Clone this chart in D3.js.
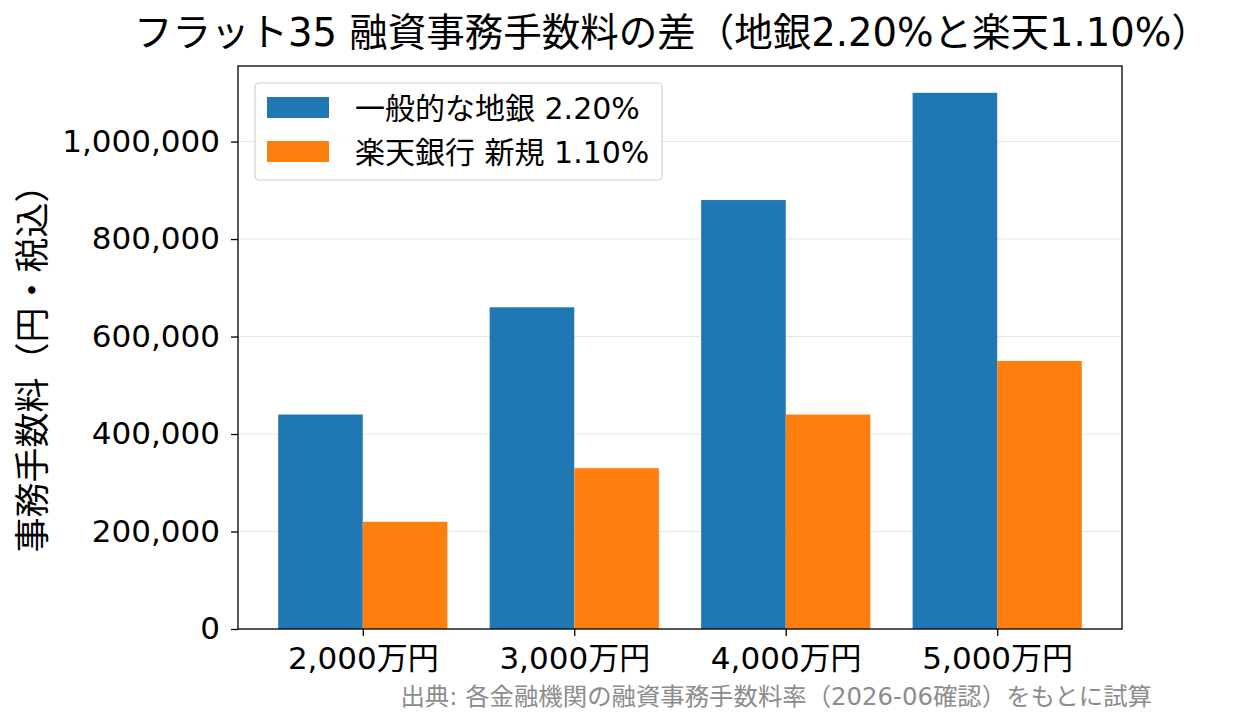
<!DOCTYPE html>
<html>
<head>
<meta charset="utf-8">
<script src="https://d3js.org/d3.v7.min.js"></script>
</head>
<body style="margin:0;background:#fff">
<script>
const categories = ["2,000万円", "3,000万円", "4,000万円", "5,000万円"];
const seriesNames = ["一般的な地銀 2.20%", "楽天銀行 新規 1.10%"];
const chiginFees = [440000, 660000, 880000, 1100000];
const rakutenFees = [220000, 330000, 440000, 550000];
const yTicks = [0, 200000, 400000, 600000, 800000, 1000000];
const colors = ["#1f77b4", "#ff7f0e"];

const [width, height] = [1247, 725];
const margin = {left: 238, right: 125, top: 66, bottom: 96};
const font = "'DejaVu Sans', 'Noto Sans CJK JP', sans-serif";

const svg = d3.select("body").append("svg")
    .attr("width", width)
    .attr("height", height)
    .style("font-family", font);

// x in category units, matplotlib-like margins
const x = d3.scaleLinear()
    .domain([-0.59, 3.59])
    .range([margin.left, width - margin.right]);
const y = d3.scaleLinear()
    .domain([0, 1155000])
    .range([height - margin.bottom, margin.top]);

// grid
svg.append("g").selectAll("line")
    .data(yTicks)
    .enter().append("line")
    .attr("x1", margin.left).attr("x2", width - margin.right)
    .attr("y1", d => y(d)).attr("y2", d => y(d))
    .style("stroke", "#e6e6e6")
    .style("stroke-width", 1);

const series = [chiginFees, rakutenFees];
const barW = 0.4;
series.forEach((vals, s) => {
    svg.append("g").selectAll("rect")
        .data(vals)
        .enter().append("rect")
        .attr("x", (d, i) => x(i + (s === 0 ? -barW : 0)))
        .attr("width", x(barW) - x(0))
        .attr("y", d => y(d))
        .attr("height", d => y(0) - y(d))
        .style("fill", colors[s]);
});

// axes
const yAxis = svg.append("g")
    .attr("transform", `translate(${margin.left},0)`)
    .call(d3.axisLeft(y).tickValues(yTicks).tickFormat(d3.format(",")).tickSizeOuter(0).tickSize(7).tickPadding(11));
const xAxis = svg.append("g")
    .attr("transform", `translate(0,${height - margin.bottom})`)
    .call(d3.axisBottom(x).tickValues([0, 1, 2, 3]).tickFormat(i => categories[i]).tickSizeOuter(0).tickSize(7).tickPadding(11));
[yAxis, xAxis].forEach(a => {
    a.select(".domain").remove();
    a.selectAll("line").style("stroke", "#000").style("stroke-width", 1.3);
    a.selectAll("text").style("font-family", font).style("font-size", "31px").style("fill", "#000");
});

// frame
svg.append("rect")
    .attr("x", margin.left).attr("y", margin.top)
    .attr("width", width - margin.left - margin.right)
    .attr("height", height - margin.top - margin.bottom)
    .style("fill", "none").style("stroke", "#000").style("stroke-width", 1.3);

// title
svg.append("text")
    .attr("x", 672)
    .attr("y", 46)
    .attr("text-anchor", "middle")
    .style("font-size", "38.5px")
    .text("フラット35 融資事務手数料の差（地銀2.20%と楽天1.10%）");

// y label
svg.append("text")
    .attr("transform", "translate(45,360) rotate(-90)")
    .attr("text-anchor", "middle")
    .style("font-size", "35px")
    .text("事務手数料（円・税込）");

// source note
svg.append("text")
    .attr("x", 1152)
    .attr("y", 705)
    .attr("text-anchor", "end")
    .style("font-size", "24.4px")
    .style("fill", "#8c8c8c")
    .text("出典: 各金融機関の融資事務手数料率（2026-06確認）をもとに試算");

// legend
const lg = svg.append("g").attr("transform", "translate(255,83)");
lg.append("rect")
    .attr("width", 407).attr("height", 97).attr("rx", 4)
    .style("fill", "#fff").style("fill-opacity", 0.8)
    .style("stroke", "#d0d0d0").style("stroke-width", 1.2);
seriesNames.forEach((name, i) => {
    const row = lg.append("g").attr("transform", `translate(0,${14 + i * 44})`);
    row.append("rect").attr("x", 12).attr("y", 0).attr("width", 62).attr("height", 21)
        .style("fill", colors[i]);
    row.append("text").attr("x", 100).attr("y", 11).attr("dy", "0.36em")
        .style("font-size", "30px").text(name);
});
</script>
</body>
</html>
